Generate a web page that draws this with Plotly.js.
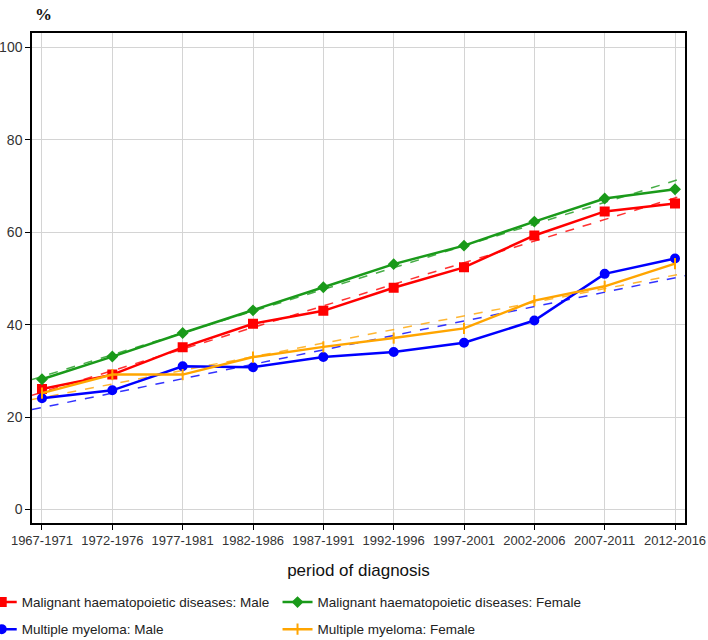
<!DOCTYPE html>
<html>
<head>
<meta charset="utf-8">
<script src="https://cdn.plot.ly/plotly-3.0.1.min.js"></script>
<style>html,body{margin:0;padding:0;background:#fff;}#chart{width:708px;height:640px;}</style>
</head>
<body>
<div id="chart"></div>
<script>
const periods = ["1967-1971","1972-1976","1977-1981","1982-1986","1987-1991","1992-1996","1997-2001","2002-2006","2007-2011","2012-2016"];
const mhdMale   = [26.1, 29.2, 35.1, 40.2, 43.0, 48.0, 52.4, 59.3, 64.5, 66.2];
const mhdFemale = [28.2, 33.1, 38.2, 43.1, 48.1, 53.1, 57.1, 62.3, 67.3, 69.3];
const mmMale    = [24.1, 25.8, 31.0, 30.8, 33.0, 34.1, 36.1, 40.9, 51.0, 54.3];
const mmFemale  = [25.2, 29.2, 29.2, 33.0, 35.2, 37.1, 39.2, 45.2, 48.3, 53.2];
const yTicks = [0, 20, 40, 60, 80, 100];

const FONT = '"Liberation Sans", Arial, sans-serif';
const xIdx = periods.map((_, i) => i);
const xr = [-0.142, 9.142];

function fit(y) {
  const n = y.length, mx = (n - 1) / 2;
  const my = y.reduce((a, b) => a + b, 0) / n;
  let sxy = 0, sxx = 0;
  y.forEach((v, i) => { sxy += (i - mx) * (v - my); sxx += (i - mx) * (i - mx); });
  const b = sxy / sxx, a = my - b * mx;
  return xr.map(x => a + b * x);
}

const series = [
  {name: "Malignant haematopoietic diseases: Male", y: mhdMale, color: "#ff0000", symbol: "square", size: 8, legend: "legend"},
  {name: "Malignant haematopoietic diseases: Female", y: mhdFemale, color: "#1a9a1a", symbol: "diamond", size: 7, legend: "legend2"},
  {name: "Multiple myeloma: Male", y: mmMale, color: "#0000ff", symbol: "circle", size: 8, legend: "legend3"},
  {name: "Multiple myeloma: Female", y: mmFemale, color: "#ffa500", symbol: "line-ns-open", size: 8, legend: "legend4"}
];

const traces = [];
series.forEach(s => {
  traces.push({x: xr, y: fit(s.y), mode: "lines", showlegend: false, hoverinfo: "skip",
    line: {color: s.color, width: 1.5, dash: "dash"}, opacity: 0.8});
});
series.forEach(s => {
  traces.push({x: xIdx, y: s.y, name: s.name, mode: "lines+markers", legend: s.legend,
    line: {color: s.color, width: 2.5},
    marker: {color: s.color, symbol: s.symbol, size: s.size, line: {color: s.color, width: 2}}});
});

const legendBase = {
  orientation: "v", xanchor: "left", yanchor: "middle", bgcolor: "rgba(0,0,0,0)",
  font: {family: FONT, size: 13.5, color: "#222"}, itemwidth: 30
};
const col1 = -0.077, col2 = 0.376;
const row1 = (522.7 - 602) / 489.7, row2 = (522.7 - 629) / 489.7;

const layout = {
  width: 708, height: 640,
  margin: {l: 32, r: 23, t: 33, b: 117, autoexpand: false},
  paper_bgcolor: "#fff", plot_bgcolor: "#fff",
  font: {family: FONT, size: 13, color: "#333"},
  showlegend: true,
  xaxis: {
    range: xr, tickmode: "array", tickvals: xIdx, ticktext: periods, tickangle: 0, automargin: false,
    showgrid: true, gridcolor: "#d4d4d4", gridwidth: 1,
    showline: true, linecolor: "#000", linewidth: 1.5, mirror: true,
    ticks: "outside", ticklen: 5, tickcolor: "#000",
    tickfont: {family: FONT, size: 13, color: "#333"}, zeroline: false,
    title: {text: "period of diagnosis", font: {family: FONT, size: 17, color: "#111"}, standoff: 17}
  },
  yaxis: {
    range: [-2.9, 103.1], tickmode: "array", tickvals: yTicks, automargin: false,
    showgrid: true, gridcolor: "#d4d4d4", gridwidth: 1,
    showline: true, linecolor: "#000", linewidth: 1.5, mirror: true,
    ticks: "outside", ticklen: 5, tickcolor: "#000",
    tickfont: {family: FONT, size: 14, color: "#333"}, zeroline: false
  },
  legend:  Object.assign({}, legendBase, {x: col1, y: row1}),
  legend2: Object.assign({}, legendBase, {x: col2, y: row1}),
  legend3: Object.assign({}, legendBase, {x: col1, y: row2}),
  legend4: Object.assign({}, legendBase, {x: col2, y: row2}),
  annotations: [{
    text: "<b>%</b>", xref: "paper", yref: "paper", x: 0.002, y: 1.0, yshift: 7,
    xanchor: "left", yanchor: "bottom", showarrow: false,
    font: {family: "Liberation Serif, serif", size: 17, color: "#111"}
  }]
};

Plotly.newPlot("chart", traces, layout, {displayModeBar: false});
</script>
</body>
</html>
